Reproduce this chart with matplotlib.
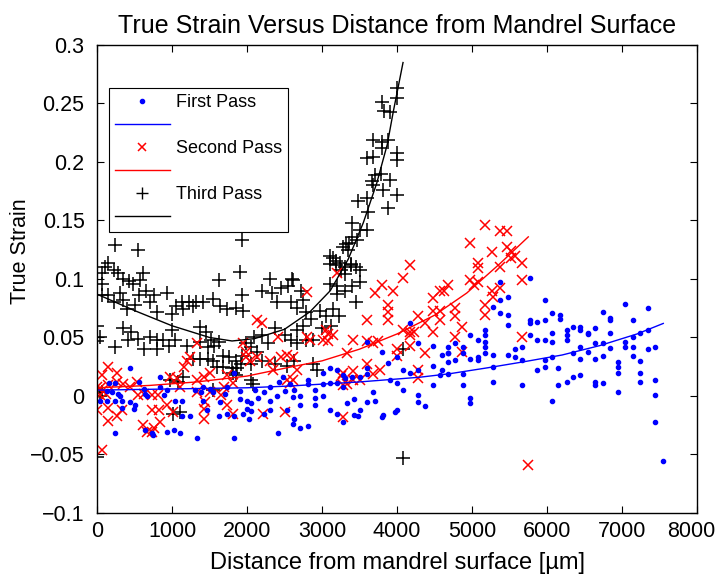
import numpy as np
import matplotlib
matplotlib.use('Agg')
import matplotlib.pyplot as plt
import matplotlib.transforms as mtransforms
from matplotlib.lines import Line2D
from matplotlib.ticker import FuncFormatter

plt.rcParams['font.family'] = ['Liberation Sans', 'DejaVu Sans']

# First pass (blue dots): (distance um, true strain)
first_pts = np.array([
    (440,0.024),(160,0.011),(240,0.011),(130,0.004),(200,0.003),(280,0.002),(300,0.0),(560,0.012),
    (620,0.006),(640,0.002),(670,0.0),(40,-0.004),(130,-0.004),(240,-0.004),(330,-0.004),(440,-0.005),
    (330,-0.01),(510,-0.008),(490,-0.011),(240,-0.032),(640,-0.029),(730,-0.032),(930,-0.031),(1030,-0.029),
    (840,0.016),(840,0.008),(930,0.005),(890,0.001),(1040,-0.004),(1130,-0.004),(1130,-0.017),(1240,-0.017),
    (1110,-0.032),(1330,-0.036),(1410,0.008),(1380,0.003),(1410,-0.004),(1470,-0.012),(1550,0.003),(1640,-0.005),
    (1730,0.008),(1630,-0.017),(1730,-0.015),(1830,-0.017),(1830,-0.036),(1910,-0.003),(2000,-0.004),(2000,-0.011),
    (2050,-0.006),(1950,-0.015),(2050,-0.013),(1830,0.02),(2230,0.003),(2310,-0.004),(2230,-0.015),(2310,-0.012),
    (2430,0.012),(2480,0.016),(2530,-0.012),(2410,-0.032),(2570,0.01),(2630,0.005),(2630,-0.02),(2030,-0.02),
    (2610,-0.001),(2700,0.0),(2610,-0.024),(2700,-0.027),(2810,-0.026),(2700,-0.008),(2810,0.014),(2810,0.01),
    (2900,0.005),(2900,-0.002),(3010,0.01),(3010,0.0),(2900,-0.008),(3100,-0.012),(3200,-0.015),(3330,-0.006),
    (3420,-0.003),(3420,-0.016),(3500,-0.012),(3100,0.024),(3200,0.022),(3280,0.018),(3310,0.015),(3400,0.016),
    (3500,0.016),(3600,0.024),(3600,0.019),(3010,0.02),(3100,0.011),(3200,0.011),(3280,0.008),
    (3600,0.046),(3800,0.038),(3880,0.028),(4000,0.033),(4080,0.022),(4170,0.02),(4280,0.022),(4080,0.005),
    (4280,0.001),(4280,-0.005),(4370,-0.009),(4480,0.009),(4480,0.026),(4600,0.022),(4680,0.037),(4680,0.029),
    (4480,0.043),(4600,0.035),(4280,0.045),(4170,0.062),(3680,0.003),(3710,-0.004),(3800,-0.018),(3970,-0.014),
    (4000,-0.012),(3900,0.014),(4000,0.011),(3280,-0.022),(3480,-0.017),(3600,-0.005),(3810,-0.016),
    (750,-0.033),(1300,0.005),(1500,0.006),(1700,0.002),(1900,0.004),(2100,0.005),(2300,0.008),(2500,0.004),
    (2150,-0.002),(2400,0.0),
    (5370,0.097),(5770,0.101),(5370,0.082),(5480,0.085),(5280,0.076),(5370,0.071),(5480,0.069),(5480,0.061),
    (5970,0.082),(6070,0.071),(6170,0.069),(6170,0.066),(5170,0.056),(5170,0.052),(5170,0.046),(5170,0.042),
    (5170,0.037),(4970,0.052),(5080,0.048),
    (5770,0.065),(5770,0.062),(5870,0.063),(5970,0.065),(5770,0.052),(5870,0.048),(5970,0.048),(6070,0.054),
    (6070,0.046),(6270,0.056),(6270,0.052),(6270,0.048),(6350,0.059),(6440,0.059),(6440,0.056),(6550,0.054),
    (6550,0.053),(6640,0.058),(6640,0.045),(6440,0.042),(6550,0.038),(6350,0.037),(6440,0.032),(6640,0.032),
    (6440,0.018),(6350,0.016),(6270,0.012),(6150,0.009),(6150,0.024),(5870,0.022),(5970,0.025),(5970,0.031),
    (6070,0.033),(6070,-0.004),(5670,0.009),(5670,0.031),(5670,0.042),(5570,0.04),(5570,0.033),(5480,0.035),
    (5280,0.035),(5280,0.025),(5280,0.012),(5080,0.033),(5080,0.031),(4970,0.032),(4880,0.042),(4880,0.037),
    (4770,0.045),(4770,0.031),(4680,0.042),(4680,0.037),(4880,0.019),(4880,0.009),(4970,-0.002),(4970,-0.006),
    (4680,0.019),(4570,0.018),(6640,0.012),(6640,0.009),
    (7040,0.079),(7350,0.075),(6750,0.072),(6840,0.067),(6840,0.065),(7150,0.065),(6840,0.054),(6750,0.045),
    (7040,0.046),(7040,0.042),(7150,0.05),(7150,0.042),(7240,0.054),(7350,0.056),(6840,0.041),(6750,0.034),
    (7150,0.034),(7350,0.04),(7440,0.042),(6950,0.029),(6950,0.025),(6950,0.02),(7240,0.03),(7240,0.02),
    (6750,0.011),(7240,0.012),(7440,0.014),(7440,0.001),(6950,0.003),(7440,-0.022),(7540,-0.056),
])

# Second pass (red crosses)
second_pts = np.array([
    (5170,0.146),(5370,0.141),(5470,0.141),(4970,0.131),(5260,0.123),(5470,0.127),(5520,0.124),(5570,0.12),
    (5520,0.118),(5670,0.114),(5670,0.099),(5080,0.114),(5080,0.109),(5370,0.11),(4970,0.099),(5030,0.095),
    (5080,0.097),(5260,0.09),(5280,0.085),(5370,0.092),(5170,0.078),(5170,0.069),(4680,0.095),(4620,0.09),
    (4570,0.09),(4480,0.084),(4480,0.073),(4570,0.073),(4570,0.065),(4770,0.075),(4770,0.068),(4870,0.059),
    (4770,0.05),(4870,0.038),(4280,0.068),(4370,0.062),(4480,0.055),(4230,0.055),(4170,0.055),(4170,0.043),
    (4370,0.037),(4280,0.022),(4280,0.015),(4170,0.112),(4080,0.101),(5670,0.05),(5750,-0.059),
    (3800,0.095),(3700,0.088),(3950,0.09),(3880,0.078),(3880,0.072),(3880,0.065),(3600,0.065),(3200,0.105),
    (2800,0.089),(2130,0.065),(2200,0.062),(2410,0.05),(2800,0.05),(2840,0.048),(3010,0.048),(3080,0.047),
    (3150,0.052),(3050,0.056),(3080,0.053),(3410,0.048),(3600,0.047),(3680,0.045),(3750,0.047),(3330,0.037),
    (3600,0.027),(3680,0.019),(3280,0.02),(3410,0.021),(3250,0.017),(3410,0.014),(3280,0.009),(3330,0.01),
    (3500,0.014),(4080,0.056),(4170,0.052),(4000,0.04),(4000,0.034),(3770,0.022),(3280,-0.018),
    (2530,0.014),(2570,0.011),(2610,0.014),(2300,0.03),(2340,0.022),(2450,0.033),(2530,0.035),(2610,0.033),
    (2660,0.022),(1950,0.045),(1990,0.038),(1990,0.033),(2040,0.03),(2130,0.033),(1730,0.018),(1810,0.011),
    (1690,0.008),(1650,0.001),(1730,-0.008),(1810,-0.015),(2500,-0.014),(2210,-0.015),(1330,0.045),(1240,0.033),
    (1200,0.03),(1160,0.025),(1330,0.014),(1420,0.016),(1510,0.02),(1330,0.003),(1510,0.003),(1420,-0.011),
    (1420,-0.02),(1440,-0.005),(970,0.016),(1060,0.015),(1100,0.008),(930,-0.008),(1010,-0.014),(840,-0.022),
    (760,-0.027),(820,-0.012),(730,-0.012),(610,-0.025),(660,-0.031),(730,-0.031),(150,0.025),(260,0.02),
    (70,0.018),(150,0.009),(260,0.012),(440,0.008),(350,0.01),(530,0.012),(550,0.001),(620,0.002),(730,0.001),
    (810,0.001),(40,0.007),(40,0.001),(120,0.002),(150,-0.01),(260,-0.017),(150,-0.021),(330,-0.012),
    (0,-0.012),(0,0.008),(70,-0.046),
])

# Third pass (black plus signs)
third_pts = np.array([
    (240,0.129),(550,0.125),(1930,0.133),(1910,0.106),(1630,0.099),
    (150,0.114),(220,0.108),(70,0.105),(100,0.11),(280,0.105),(350,0.1),(420,0.098),(480,0.096),(610,0.105),
    (570,0.099),(70,0.096),(70,0.086),(150,0.086),(220,0.08),(300,0.088),(340,0.082),(560,0.086),(700,0.08),
    (760,0.086),(930,0.088),(650,0.09),(400,0.074),(500,0.078),(800,0.072),
    (1130,0.08),(1230,0.08),(1320,0.08),(1410,0.08),(1050,0.077),(1150,0.074),(1280,0.077),(1000,0.07),
    (1640,0.077),(1730,0.074),(1850,0.075),(1950,0.073),(1930,0.086),(1550,0.083),
    (2300,0.1),(2200,0.09),(2330,0.088),(2450,0.092),(2550,0.094),(2600,0.1),(2720,0.09),(2580,0.08),
    (2400,0.08),(2750,0.082),
    (3100,0.12),(3100,0.113),(3180,0.115),(3250,0.108),(3300,0.104),(3380,0.113),(3450,0.11),(3350,0.125),
    (3320,0.13),(3100,0.096),(3200,0.094),(3300,0.09),(3400,0.094),(3200,0.087),(3450,0.08),
    (2970,0.073),(3050,0.068),(3150,0.074),(3230,0.068),(3120,0.06),(3000,0.058),
    (2670,0.075),(2780,0.072),(2850,0.066),(2750,0.06),(2670,0.056),
    (0,0.06),(40,0.05),(0,0.047),(240,0.042),(350,0.058),(450,0.055),(540,0.049),(410,0.048),(700,0.05),
    (620,0.04),(800,0.04),(800,0.048),(880,0.048),(960,0.043),(1000,0.056),(1040,0.048),(1200,0.043),
    (970,0.014),(1080,0.012),(1010,-0.015),(1150,0.016),
    (1370,0.059),(1450,0.055),(1370,0.046),(1520,0.048),(1480,0.042),(1560,0.043),(1630,0.046),
    (1280,0.032),(1370,0.032),(1480,0.032),(1550,0.030),(1680,0.034),(1760,0.033),(1850,0.03),(1930,0.034),
    (1600,0.025),(1680,0.025),(1800,0.024),(1870,0.024),(1920,0.027),(2050,0.027),
    (1810,0.02),(1850,0.018),(2050,0.014),(2080,0.01),
    (1990,0.045),(2050,0.042),(2130,0.038),(2090,0.05),
    (2200,0.052),(2370,0.058),(2280,0.045),(2500,0.052),(2580,0.048),(2670,0.045),(2790,0.048),(2880,0.048),
    (2200,0.03),(2370,0.027),(2530,0.026),(2620,0.03),(2880,0.027),(2930,0.022),
    (1550,0.005),(1100,-0.014),(40,0.0),(70,0.003),(4080,0.04),(4080,-0.053),(0,-0.052),
    (4000,0.263),(4000,0.255),(3800,0.251),(3830,0.244),(3900,0.243),(3680,0.219),(3800,0.217),(3880,0.219),
    (3800,0.212),(4000,0.208),(4000,0.202),(3600,0.203),(3680,0.204),(3710,0.189),(3780,0.19),(3680,0.18),
    (3660,0.184),(3810,0.176),(3900,0.185),(4000,0.172),(3880,0.161),(3480,0.167),(3600,0.169),(3610,0.157),
    (3400,0.148),(3500,0.142),(3600,0.142),(3400,0.136),(3470,0.133),(3280,0.127),(3360,0.131),(3150,0.118),
    (3180,0.112),(3240,0.114),(3300,0.11),(3380,0.112),(3500,0.108),(3500,0.097),(2610,0.099),
])

# fitted curves, points
first_fit_x = [0, 1000, 2000, 2570, 3500, 4300, 4700, 5200, 5670, 6200, 6700, 7200, 7550]
first_fit_y = [0.005, 0.006, 0.007, 0.0085, 0.012, 0.016, 0.019, 0.024, 0.029, 0.035, 0.043, 0.053, 0.062]
second_fit_x = [0, 700, 1330, 2000, 2600, 3000, 3500, 4000, 4500, 4930, 5370, 5750]
second_fit_y = [0.007, 0.009, 0.012, 0.017, 0.025, 0.030, 0.040, 0.053, 0.069, 0.088, 0.113, 0.136]
third_fit_x = [0, 500, 1000, 1500, 1800, 2100, 2500, 2840, 3110, 3350, 3550, 3730, 3870, 3950, 4040, 4080]
third_fit_y = [0.087, 0.073, 0.060, 0.050, 0.047, 0.049, 0.057, 0.072, 0.090, 0.117, 0.148, 0.182, 0.215, 0.243, 0.272, 0.285]

fig = plt.figure(figsize=(7.16, 5.77), dpi=100)
ax = fig.add_axes([0.1355, 0.111, 0.838, 0.811])

ax.plot(third_pts[:, 0], third_pts[:, 1], 'k+', ms=9.5, mew=1.1)
ax.plot(second_pts[:, 0], second_pts[:, 1], 'x', color='#ff0000', ms=7, mew=1.1)
ax.plot(first_pts[:, 0], first_pts[:, 1], '.', color='#0000ff', ms=6)
ax.plot(first_fit_x, first_fit_y, color='#0000ff', lw=1)
ax.plot(second_fit_x, second_fit_y, color='#ff0000', lw=1)
ax.plot(third_fit_x, third_fit_y, color='k', lw=1)

ax.set_xlim(0, 8000)
ax.set_ylim(-0.1, 0.3)
ax.set_xticks(np.arange(0, 8001, 1000))
ax.set_yticks(np.arange(-0.1, 0.301, 0.05))
ax.yaxis.set_major_formatter(FuncFormatter(lambda v, p: ('%g' % round(v, 3)).replace('-', '\u2212')))
ax.tick_params(direction='in', top=True, right=True, length=5, labelsize=15.5)
ax.tick_params(axis='x', pad=6)
ax.tick_params(axis='y', pad=9)
for s in ax.spines.values():
    s.set_linewidth(1.0)

# keep the last x label inside the figure edge
last = ax.get_xticklabels()[-1]
last.set_transform(last.get_transform() + mtransforms.ScaledTranslation(-4 / 72, 0, fig.dpi_scale_trans))

ax.set_title('True Strain Versus Distance from Mandrel Surface', fontsize=18, pad=9)
ax.set_xlabel('Distance from mandrel surface [\u00b5m]', fontsize=17, labelpad=7)
ax.set_ylabel('True Strain', fontsize=15.5)
ax.yaxis.set_label_coords(-0.11, 0.56)

handles = [Line2D([], [], ls='none', marker='.', color='#0000ff', ms=6),
           Line2D([], [], color='#0000ff', lw=1),
           Line2D([], [], ls='none', marker='x', color='#ff0000', ms=6, mew=1.1),
           Line2D([], [], color='#ff0000', lw=1),
           Line2D([], [], ls='none', marker='+', color='k', ms=9, mew=1.0),
           Line2D([], [], color='k', lw=1)]
labels = ['First Pass', '', 'Second Pass', '', 'Third Pass', '']
leg = ax.legend(handles, labels, loc='upper left', bbox_to_anchor=(0.02, 0.908), borderaxespad=0,
                fontsize=13, handlelength=3.0, handletextpad=0.35, labelspacing=0.33,
                fancybox=False, framealpha=1, edgecolor='k', borderpad=0.35)
leg.get_frame().set_linewidth(0.8)

plt.savefig('out.png', dpi=100)
